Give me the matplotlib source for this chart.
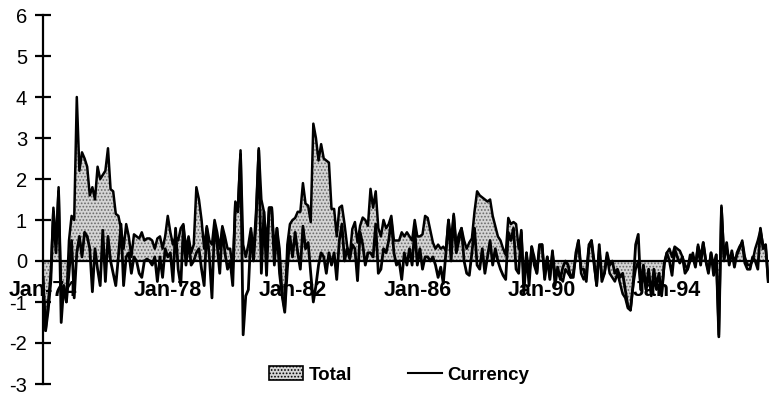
import numpy as np
import matplotlib.pyplot as plt
from matplotlib.patches import Patch
from matplotlib.lines import Line2D

plt.rcParams['font.family'] = ['Liberation Sans', 'DejaVu Sans']
plt.rcParams['axes.unicode_minus'] = False
plt.rcParams['hatch.linewidth'] = 0.8

# monthly series, Jan-74 .. Apr-97
total = [
    -0.4, -1.7, -1.0, -0.3, 1.3, 0.4, 1.8, -0.8, -0.6, -1.0, 0.5, 1.1,     # 1974
    1.0, 4.0, 2.2, 2.65, 2.5, 2.3, 1.6, 1.8, 1.5, 2.3, 2.0, 2.1,           # 1975
    2.2, 2.75, 1.75, 1.7, 1.15, 1.1, 0.8, 0.3, 0.9, 0.6, 0.1, 0.65,        # 1976
    0.6, 0.55, 0.7, 0.5, 0.55, 0.55, 0.5, 0.3, 0.55, 0.6, 0.3, 0.6,        # 1977
    1.1, 0.7, 0.4, 0.6, 0.5, 0.8, 0.9, 0.3, 0.6, 0.2, 0.4, 1.8,            # 1978
    1.5, 1.0, 0.3, 0.85, 0.5, 0.4, 1.0, 0.7, 0.3, 0.85, 0.6, 0.3,          # 1979
    0.3, -0.2, 1.45, 1.3, 2.7, 0.4, 0.1, 0.4, 0.8, 0.2, 1.25, 2.75,        # 1980
    1.5, 1.2, 0.4, 1.3, 1.3, 0.3, 0.8, 0.3, -0.8, -1.2, 0.4, 0.9,          # 1981
    1.0, 1.05, 1.2, 1.2, 1.9, 1.4, 1.35, 0.95, 3.35, 3.0, 2.45, 2.85,      # 1982
    2.5, 2.45, 2.4, 1.27, 1.27, 0.6, 1.3, 1.35, 0.9, 0.37, 0.1, 0.78,      # 1983
    0.95, 0.45, 0.86, 1.06, 1.0, 0.86, 1.76, 1.3, 1.7, 0.8, 0.6, 1.0,      # 1984
    0.8, 0.9, 1.1, 0.5, 0.5, 0.5, 0.7, 0.6, 0.7, 0.6, 0.5, 1.0,            # 1985
    0.6, 0.6, 0.65, 1.1, 1.05, 0.75, 0.45, 0.3, 0.4, 0.3, 0.35, 0.25,      # 1986
    1.0, 0.5, 1.15, 0.4, 0.65, 0.8, 0.5, 0.3, 0.45, 0.55, 1.2, 1.7,        # 1987
    1.6, 1.55, 1.5, 1.45, 1.5, 1.1, 0.85, 0.6, 0.5, 0.3, 0.15, 1.05,       # 1988
    0.9, 0.95, 0.9, 0.3, 0.7, -0.5, 0.2, -0.4, 0.35, 0.1, -0.3, 0.35,      # 1989
    0.4, -0.4, 0.1, -0.4, 0.2, -0.3, -0.3, -0.4, -0.5, -0.2, -0.3, -0.4,   # 1990
    -0.3, 0.1, 0.5, -0.3, -0.45, -0.3, 0.4, 0.5, -0.1, -0.6, 0.3, -0.4,    # 1991
    -0.3, 0.1, -0.3, -0.4, -0.5, -0.3, -0.55, -0.8, -0.9, -1.15, -1.2, -0.6,  # 1992
    -0.2, 0.0, -0.7, -0.3, -0.7, -0.3, -0.8, -0.5, -0.7, -0.6, -0.8, -0.1,    # 1993
    0.2, 0.3, 0.1, 0.35, 0.3, 0.25, 0.1, -0.1, -0.2, 0.0, 0.2, -0.1,       # 1994
    0.4, 0.1, 0.45, 0.0, -0.25, 0.2, -0.1, 0.15, -1.8, 1.35, 0.1, 0.3,     # 1995
    0.0, 0.2, 0.0, 0.15, 0.3, 0.5, 0.1, -0.1, -0.1, 0.0, 0.3, 0.5,         # 1996
    0.75, 0.4, 0.35, -0.5,                                                  # 1997
]

currency = [
    -0.4, -1.7, -1.2, -0.5, 1.2, 0.2, 1.7, -1.5, -0.6, -1.0, -0.3, 0.5,
    -0.9, 0.2, 0.6, 0.1, 0.7, 0.6, 0.3, -0.75, 0.3, -0.2, -0.6, 0.75,
    -0.5, 0.6, 0.0, -0.3, -0.6, 0.1, 0.9, -0.6, 0.1, 0.2, -0.3, 0.1,
    0.0, -0.3, -0.4, 0.0, 0.05, 0.0, -0.1, 0.1, -0.5, 0.1, -0.4, 0.3,
    0.1, 0.2, -0.5, 0.8, -0.2, -0.6, 0.85, -0.1, 0.5, -0.1, 0.0, 0.2,
    0.3, -0.2, -0.6, 0.8, 0.1, -0.9, 0.9, 0.4, -0.3, 0.8, 0.2, -0.2,
    0.0, -0.6, 1.4, 1.2, 2.6, -1.8, -0.85, -0.7, 0.7, 0.0, 1.0, 2.7,
    -0.3, 1.2, -0.35, 1.3, 1.3, -0.1, 0.8, -0.3, -0.85, -1.25, -0.2, 0.6,
    0.1, 0.7, 0.2, -0.2, 0.85, 0.3, 0.45, -0.3, -1.0, -0.6, -0.1, 0.2,
    0.1, -0.3, 0.2, -0.1, 0.2, -0.45, 0.5, 0.9, 0.0, 0.3, 0.05, 0.4,
    0.3, -0.48, 0.7, 0.4, -0.1, 0.2, 0.2, 0.1, 0.9, -0.3, -0.2, 0.3,
    0.2, 0.5, 1.0, 0.2, -0.1, 0.0, -0.45, 0.2, -0.1, 0.3, -0.1, 0.8,
    -0.1, 0.3, -0.2, 0.1, 0.1, 0.0, 0.1, -0.1, -0.4, -0.15, -0.55, 0.2,
    1.0, 0.0, 1.1, 0.2, 0.5, 0.8, 0.0, -0.3, -0.35, 0.2, 0.8, -0.1,
    -0.2, 0.3, -0.3, 0.1, 0.5, -0.1, 0.3, 0.0, -0.2, -0.35, -0.45, 0.7,
    0.5, 0.8, -0.2, -0.3, 0.75, -0.8, 0.2, -0.6, 0.35, -0.1, -0.3, 0.4,
    0.4, -0.45, 0.1, -0.45, 0.25, -0.6, -0.15, -0.45, -0.15, 0.0, -0.1, -0.4,
    -0.4, 0.2, 0.5, -0.2, -0.2, -0.5, 0.3, 0.5, 0.0, -0.6, 0.4, -0.5,
    -0.3, 0.2, -0.1, 0.0, -0.3, -0.2, -0.4, -0.3, -0.7, -1.1, -1.2, -0.6,
    0.4, 0.65, -0.7, -0.1, -0.7, -0.2, -0.85, -0.2, -0.6, -0.3, -0.85, -0.05,
    0.2, 0.0, -0.35, 0.3, 0.1, -0.05, 0.1, -0.3, -0.2, 0.15, 0.1, -0.15,
    0.35, -0.1, 0.45, 0.0, -0.3, 0.2, -0.35, 0.15, -1.85, 1.3, 0.0, 0.45,
    -0.1, 0.25, -0.15, 0.2, 0.35, 0.45, -0.05, -0.2, -0.2, 0.1, 0.0, -0.2,
    0.8, 0.3, 0.4, -0.5,
]

tick_months = [0, 48, 96, 144, 192, 240]
tick_labels = ['Jan-74', 'Jan-78', 'Jan-82', 'Jan-86', 'Jan-90', 'Jan-94']

x = np.arange(len(total))

fig = plt.figure(figsize=(7.69, 3.96), dpi=100)
ax = fig.add_axes([43 / 769, 12 / 396, 726 / 769, 369 / 396])

# stippled area for the total, black outline on top
ax.fill_between(x, 0, total, facecolor='#d4d4d4', edgecolor='#6a6a6a',
                hatch='.....', linewidth=0)
ax.plot(x, total, color='black', lw=1.8)
ax.plot(x, currency, color='black', lw=2.0)

ax.set_xlim(0, len(total) - 0.7)
ax.set_ylim(-3, 6)

for side in ['top', 'right']:
    ax.spines[side].set_visible(False)
ax.spines['bottom'].set_position(('data', 0))
ax.spines['bottom'].set_linewidth(1.6)
ax.spines['left'].set_linewidth(1.6)
ax.spines['bottom'].set_zorder(5)

ax.set_yticks(range(-3, 7))
ax.tick_params(axis='y', direction='inout', length=11, width=1.6,
               labelsize=14.5, pad=6)
ax.set_xticks(tick_months)
ax.set_xticklabels(tick_labels, fontsize=15.5, fontweight='bold')
ax.tick_params(axis='x', length=0, pad=14)

handles = [Patch(facecolor='#d4d4d4', edgecolor='black', hatch='.....', lw=1.2),
           Line2D([], [], color='black', lw=1.5)]
fig.legend(handles, ['Total', 'Currency'], loc='center',
           bbox_to_anchor=(0.519, 0.053), ncol=2, frameon=False,
           prop={'size': 13.5, 'weight': 'bold'}, handlelength=1.8,
           handleheight=0.7, handletextpad=0.3, columnspacing=3.0)

fig.savefig('out.png', dpi=100)
